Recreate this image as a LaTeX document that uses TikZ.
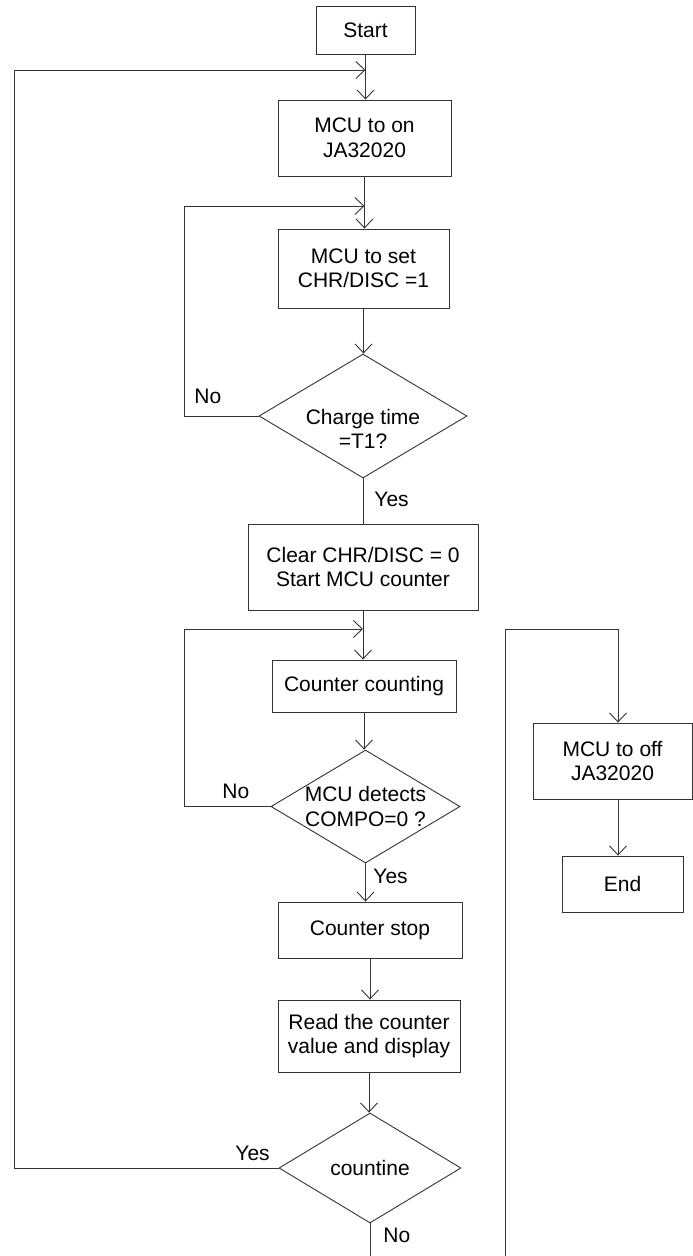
\documentclass[tikz,border=0pt]{standalone}
\usepackage{fontspec}
\setmainfont{Liberation Sans}
\usetikzlibrary{shapes.geometric,arrows.meta}

\begin{document}
\begin{tikzpicture}[x=1pt,y=-1pt,
  line width=0.9pt, color=black!80,
  every node/.style={font=\fontsize{21}{24.5}\selectfont, text=black},
  box/.style={draw, rectangle, inner sep=0pt, align=center},
  dia/.style={draw, diamond, inner sep=0pt},
  lbl/.style={inner sep=0pt, anchor=base west},
  arr/.style={-{Straight Barb[length=9pt,width=17pt]}}
]
\useasboundingbox (0,0) rectangle (693,1256);

% nodes
\node[box, minimum width=99pt, minimum height=48pt] (start) at (365.5,30) {Start};
\node[box, minimum width=173pt, minimum height=76pt] (on) at (364.5,138) {MCU to on\\JA32020};
\node[box, minimum width=171pt, minimum height=79pt] (set) at (363.5,268.5) {MCU to set\\CHR/DISC =1};
\node[dia, minimum width=208pt, minimum height=124pt,
      label={[align=center, yshift=-13pt]center:{Charge time\\=T1?}}] (d1) at (363,416) {};
\node[box, minimum width=230pt, minimum height=86pt] (clear) at (363,567) {Clear CHR/DISC = 0\\Start MCU counter};
\node[box, minimum width=184pt, minimum height=52pt] (count) at (364,686) {Counter counting};
\node[dia, minimum width=189pt, minimum height=113pt,
      label={[align=center]center:{MCU detects\\COMPO=0 ?}}] (d2) at (365.5,806.5) {};
\node[box, minimum width=184pt, minimum height=56pt] (stop) at (370,930) {Counter stop};
\node[box, minimum width=182pt, minimum height=72pt] (read) at (369,1036) {Read the counter\\value and display};
\node[dia, minimum width=182pt, minimum height=110pt, label={center:countine}] (d3) at (370,1168) {};
\node[box, minimum width=159pt, minimum height=76pt] (off) at (612.5,761) {MCU to off\\JA32020};
\node[box, minimum width=121pt, minimum height=56pt] (end) at (622.5,884) {End};

% helper coordinates
\coordinate (L1) at (14,70);
\coordinate (L2) at (184,206);
\coordinate (L3) at (184,629);
\coordinate (R1) at (505,629);
\coordinate (rx) at (618,629);
\coordinate (bot1) at (505,1256);

% connectors
\draw[arr] (start.south) -- (start.south |- on.north);
\draw[arr] (d3.west) -| (L1) -- (start.south |- L1);
\draw[arr] (on.south) -- (on.south |- set.north);
\draw[arr] (d1.west) -| (L2) -- (on.south |- L2);
\draw[arr] (set.south) -- (set.south |- d1.north);
\draw (d1.south) -- (d1.south |- clear.north);
\draw[arr] (clear.south) -- (clear.south |- count.north);
\draw[arr] (d2.west) -| (L3) -- (clear.south |- L3);
\draw[arr] (count.south) -- (count.south |- d2.north);
\draw[arr] (d2.south) -- (d2.south |- stop.north);
\draw[arr] (stop.south) -- (stop.south |- read.north);
\draw[arr] (read.south) -- (read.south |- d3.north);
\draw (d3.south) -- (d3.south |- bot1);
\draw[arr] (bot1) -- (R1) -- (rx) -- (rx |- off.north);
\draw[arr] (rx |- off.south) -- (rx |- end.north);

% branch labels
\node[lbl] (no1) at (194,403) {No};
\node[lbl] (yes1) at (374,506) {Yes};
\node[lbl] (no2) at (222,798) {No};
\node[lbl] (yes2) at (373,883) {Yes};
\node[lbl] (yes3) at (235,1160) {Yes};
\node[lbl] (no3) at (383,1242) {No};
\end{tikzpicture}
\end{document}
